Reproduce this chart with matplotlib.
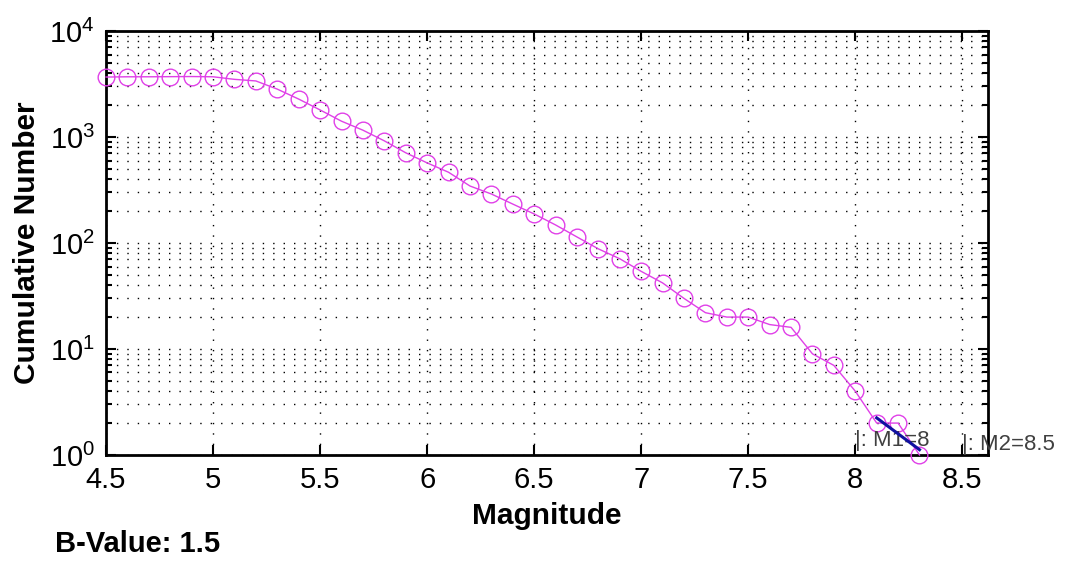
import numpy as np
import matplotlib
matplotlib.use("Agg")
import matplotlib.pyplot as plt
from matplotlib.ticker import LogLocator, NullFormatter, MultipleLocator

plt.rcParams['font.family'] = ['Liberation Sans', 'DejaVu Sans']
plt.rcParams['mathtext.fontset'] = 'custom'
plt.rcParams['mathtext.rm'] = 'Liberation Sans'

# cumulative number of events vs magnitude
magnitude = [4.5, 4.6, 4.7, 4.8, 4.9, 5.0, 5.1, 5.2, 5.3, 5.4, 5.5, 5.6, 5.7, 5.8,
             5.9, 6.0, 6.1, 6.2, 6.3, 6.4, 6.5, 6.6, 6.7, 6.8, 6.9, 7.0, 7.1, 7.2,
             7.3, 7.4, 7.5, 7.6, 7.7, 7.8, 7.9, 8.0, 8.1, 8.2, 8.3]
cum_number = [3680, 3700, 3700, 3710, 3720, 3700, 3500, 3380, 2830, 2280, 1800, 1410,
              1160, 920, 710, 570, 465, 345, 290, 233, 188, 148, 114, 88, 71, 54,
              42, 30, 22, 20, 20, 17, 16, 9, 7, 4, 2, 2, 1]

# fitted b-value line
fit_m = [8.1, 8.3]
b_value = 1.5
a_value = 12.5
fit_n = [10 ** (a_value - b_value * m) for m in fit_m]

m1, m2 = 8, 8.5

fig = plt.figure(figsize=(10.71, 5.61), dpi=100)
ax = fig.add_axes([0.099, 0.189, 0.8235, 0.7557])

ax.semilogy(magnitude, cum_number, '-', color='#e040e8', lw=1.0, marker='o',
            ms=12, mfc='none', mec='#e040e8', mew=1.0, clip_on=False, zorder=3)
ax.semilogy(fit_m, fit_n, '-', color='#1010a0', lw=2.2, clip_on=False, zorder=4)

ax.set_xlim(4.5, 8.62)
ax.set_ylim(1, 1e4)
ax.xaxis.set_major_locator(MultipleLocator(0.5))
ax.xaxis.set_major_formatter(plt.FuncFormatter(lambda v, p: f"{v:g}"))
ax.yaxis.set_major_locator(LogLocator(base=10, numticks=10))
ax.yaxis.set_minor_locator(LogLocator(base=10, subs=np.arange(2, 10), numticks=20))
ax.yaxis.set_minor_formatter(NullFormatter())

ax.grid(True, which='major', axis='both', linestyle=(0, (1, 6.5)), color='black', lw=1.0)
ax.grid(True, which='minor', axis='y', linestyle=(0, (1, 6.5)), color='black', lw=1.0)

ax.tick_params(which='both', direction='in', top=True, right=True, labelsize=21, width=1.5)
ax.tick_params(which='major', length=7, pad=8)
ax.tick_params(which='minor', length=4)
for s in ax.spines.values():
    s.set_linewidth(2.0)

ax.set_xlabel('Magnitude', fontsize=21.5, fontweight='bold', labelpad=6)
ax.set_ylabel('Cumulative Number', fontsize=21.5, fontweight='bold', labelpad=6)

ax.text(m1, 1.08, '|: M1=8', fontsize=16, color='#404040', va='bottom', ha='left', clip_on=False)
ax.text(m2, 1.0, '|: M2=8.5', fontsize=16, color='#404040', va='bottom', ha='left', clip_on=False)

fig.text(0.051, 0.005, 'B-Value: 1.5', fontsize=21, fontweight='bold', ha='left', va='bottom')

fig.savefig('out.png', dpi=100)
